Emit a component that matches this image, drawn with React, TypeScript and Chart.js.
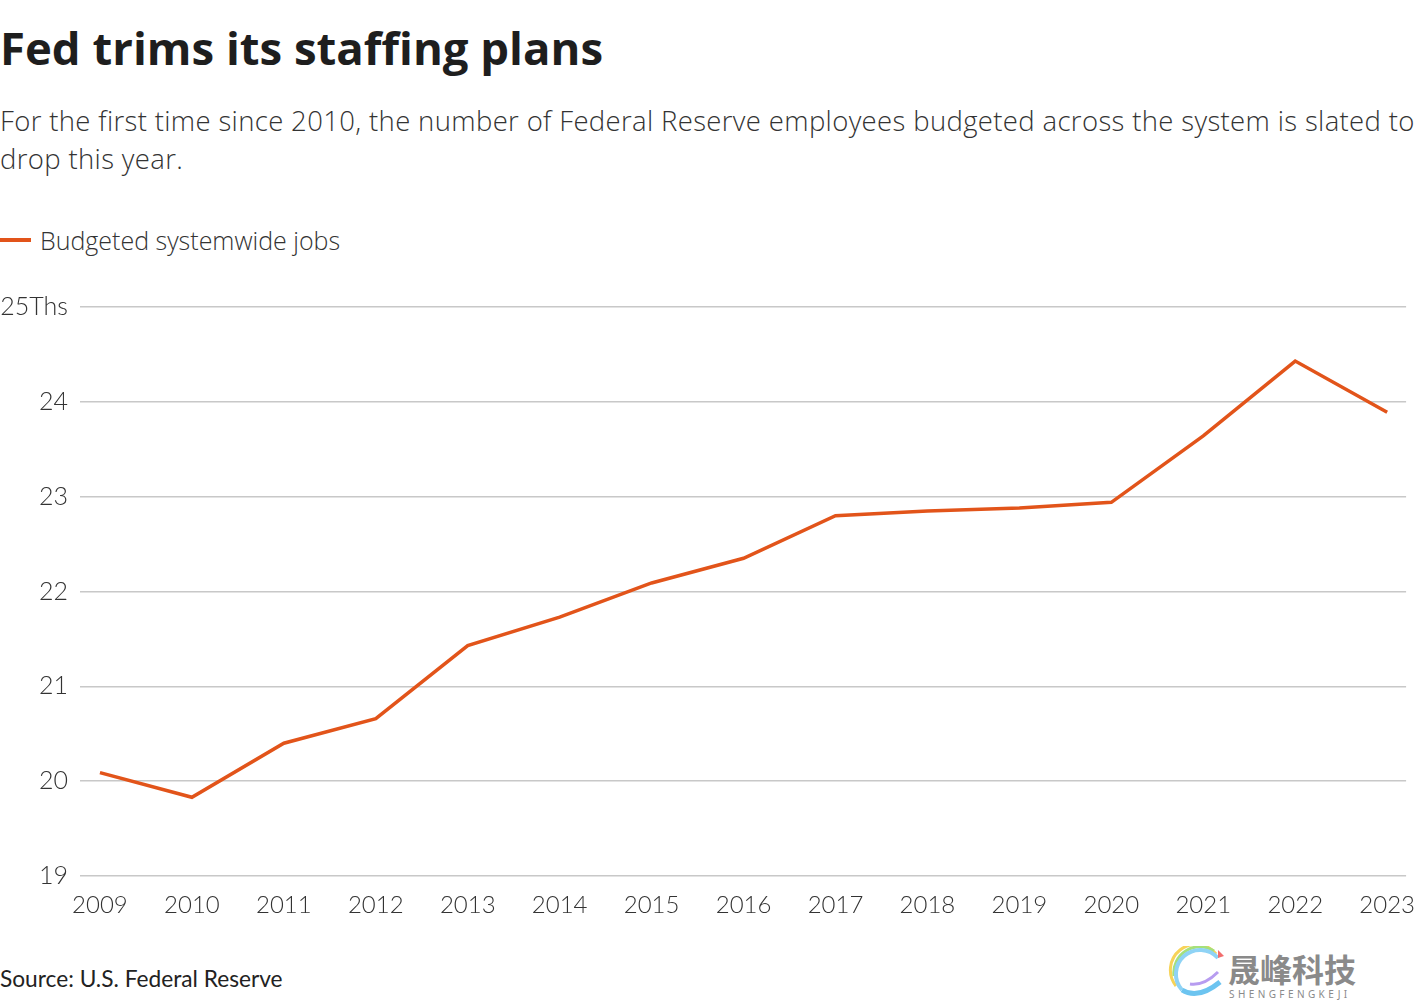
import React, { useEffect, useRef } from "react";
import { Chart, registerables } from "chart.js";

Chart.register(...registerables);

const title = "Fed trims its staffing plans";
const subtitleLine1 = "For the first time since 2010, the number of Federal Reserve employees budgeted across the system is slated to";
const subtitleLine2 = "drop this year.";
const seriesLabel = "Budgeted systemwide jobs";
const sourceText = "Source: U.S. Federal Reserve";

const years = [2009, 2010, 2011, 2012, 2013, 2014, 2015, 2016, 2017, 2018, 2019, 2020, 2021, 2022, 2023];
const jobsThousands = [20.09, 19.83, 20.4, 20.66, 21.43, 21.73, 22.09, 22.35, 22.8, 22.85, 22.88, 22.94, 23.64, 24.43, 23.89];
const yTicks = [19, 20, 21, 22, 23, 24, 25];
const topTickSuffix = "Ths";

const ORANGE = "#e2541a";
const FONT = "Lato, 'Open Sans', sans-serif";
const FONT2 = "'Open Sans', Lato, sans-serif";

export default function App() {
  const canvasRef = useRef<HTMLCanvasElement | null>(null);

  useEffect(() => {
    document.body.style.margin = "0";
    const ctx = canvasRef.current;
    if (!ctx) return;
    const chart = new Chart(ctx, {
      type: "line",
      data: {
        datasets: [
          {
            label: seriesLabel,
            data: years.map((y, i) => ({ x: y, y: jobsThousands[i] })),
            borderColor: ORANGE,
            backgroundColor: ORANGE,
            borderWidth: 3.5,
            pointRadius: 0,
            tension: 0,
          },
        ],
      },
      options: {
        animation: false,
        responsive: false,
        maintainAspectRatio: false,
        layout: { padding: { top: 26, right: 0, bottom: 0, left: 0 } },
        plugins: {
          legend: { display: false },
          tooltip: { enabled: false },
        },
        scales: {
          x: {
            type: "linear",
            min: years[0] - 0.217,
            max: years[years.length - 1] + 0.206,
            grid: { display: false, drawTicks: false },
            border: { display: false },
            afterBuildTicks: (scale: any) => {
              scale.ticks = years.map((v) => ({ value: v }));
            },
            afterFit: (scale: any) => {
              scale.height = 64;
            },
            ticks: {
              padding: 15,
              autoSkip: false,
              maxRotation: 0,
              color: "#333333",
              font: { family: FONT, size: 24, weight: "300" as any },
              callback: (v: any) => String(v),
            },
          },
          y: {
            min: yTicks[0],
            max: yTicks[yTicks.length - 1],
            afterBuildTicks: (scale: any) => {
              scale.ticks = yTicks.map((v) => ({ value: v }));
            },
            afterFit: (scale: any) => {
              scale.width = 80;
            },
            grid: { color: "#c8c8c8", lineWidth: 1.5, drawTicks: false },
            border: { display: false },
            ticks: {
              padding: 12,
              color: "#333333",
              font: { family: FONT, size: 25, weight: "300" as any },
              callback: (v: any) =>
                v === yTicks[yTicks.length - 1] ? `${v}${topTickSuffix}` : String(v),
            },
          },
        },
      },
    });
    return () => chart.destroy();
  }, []);

  return (
    <div style={{ position: "relative", width: 1420, height: 1000, background: "#fff", overflow: "hidden", fontFamily: FONT }}>
      <div
        style={{
          position: "absolute",
          left: 0,
          top: 16,
          fontSize: 45.5,
          lineHeight: "63px",
          fontWeight: 700,
          color: "#1e1e1e",
          fontFamily: FONT2,
          whiteSpace: "nowrap",
        }}
      >
        {title}
      </div>
      <div
        style={{
          position: "absolute",
          left: 0,
          top: 102,
          fontSize: 27.5,
          lineHeight: "38px",
          letterSpacing: "0.35px",
          fontWeight: 300,
          color: "#333",
          fontFamily: FONT2,
          whiteSpace: "nowrap",
        }}
      >
        {subtitleLine1}
        <br />
        {subtitleLine2}
      </div>
      <div style={{ position: "absolute", left: 0, top: 238, width: 31, height: 4, background: ORANGE }} />
      <div
        style={{
          position: "absolute",
          left: 40,
          top: 224,
          fontSize: 25,
          lineHeight: "32px",
          fontWeight: 300,
          color: "#333",
          fontFamily: FONT2,
          whiteSpace: "nowrap",
        }}
      >
        {seriesLabel}
      </div>
      <canvas
        ref={canvasRef}
        width={1430}
        height={660}
        style={{ position: "absolute", left: 0, top: 280, width: 1430, height: 660 }}
      />
      <div
        style={{
          position: "absolute",
          left: 0,
          top: 965,
          fontSize: 22.7,
          lineHeight: "27px",
          fontWeight: 400,
          color: "#222",
          whiteSpace: "nowrap",
        }}
      >
        {sourceText}
      </div>
      <svg style={{ position: "absolute", left: 1168, top: 946 }} width={60} height={54} viewBox="0 0 60 54">
        <path d="M48 8 A24 24 0 0 0 8 40" stroke="#f7d358" strokeWidth="3" fill="none" />
        <path d="M46 5 A26 26 0 0 0 6 30" stroke="#a6e07a" strokeWidth="3" fill="none" />
        <path d="M50 12 A20 20 0 0 0 14 44" stroke="#8fd3f5" strokeWidth="4" fill="none" />
        <path d="M14 44 Q30 54 52 36" stroke="#6cc4f0" strokeWidth="5" fill="none" />
        <path d="M22 38 Q36 40 50 26" stroke="#b79cf0" strokeWidth="3" fill="none" />
        <path d="M50 4 L56 10 L50 12 Z" fill="#f26d6d" />
      </svg>
      <div
        style={{
          position: "absolute",
          left: 1228,
          top: 948,
          fontSize: 32,
          lineHeight: "40px",
          fontWeight: 700,
          color: "#8a8a8a",
          fontFamily: "'Noto Sans CJK SC', sans-serif",
          whiteSpace: "nowrap",
        }}
      >
        晟峰科技
      </div>
      <div
        style={{
          position: "absolute",
          left: 1229,
          top: 988,
          fontSize: 10,
          lineHeight: "12px",
          letterSpacing: "3.4px",
          color: "#8a8a8a",
          fontFamily: "'Noto Sans', sans-serif",
          whiteSpace: "nowrap",
        }}
      >
        SHENGFENGKEJI
      </div>
    </div>
  );
}
